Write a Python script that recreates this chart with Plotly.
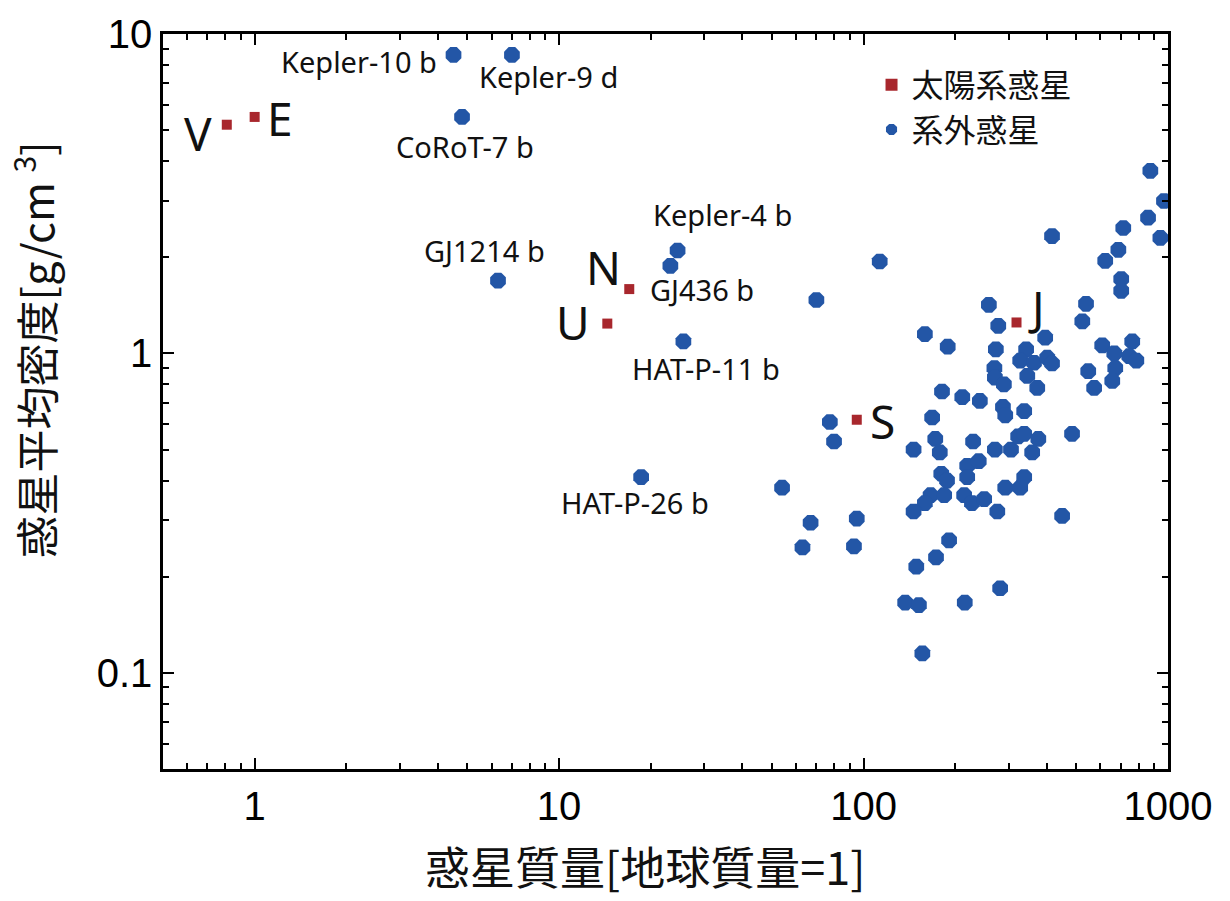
import math
import plotly.graph_objects as go

# Solar-system planets (mass in Earth masses, mean density g/cm^3)
solar_names = ["V", "E", "U", "N", "S", "J"]
solar_mass = [0.81, 1.0, 14.4, 17.0, 95, 318]
solar_density = [5.2, 5.5, 1.24, 1.59, 0.62, 1.25]

# Solar-system letter label positions (data units)
solar_label_x = [0.651, 1.21, 11.1, 14.0, 115, 369]
solar_label_y = [4.90, 5.46, 1.25, 1.87, 0.616, 1.40]

# Exoplanets
exo_mass = [
    4.5, 7.0, 4.8, 6.3, 24.5, 23.2, 25.6, 18.6, 70, 113,
    77.5, 80, 54, 67, 63, 95, 93,
    875, 970, 860, 713, 944, 416, 687, 622, 702, 702,
    258, 538, 523, 277, 159, 189, 395, 272, 342, 608,
    763, 666, 327, 363, 401, 416, 746, 787, 269, 345,
    547, 671, 270, 289, 372, 572, 656, 181, 211, 241,
    287, 292, 337, 168, 146, 172, 178, 229, 270, 305,
    322, 337, 375, 358, 484, 219, 239, 219, 180, 188,
    166, 159, 184, 146, 214, 227, 249, 275, 292, 327,
    337, 449, 191, 173, 149, 281, 137, 152, 215, 156,
]
exo_density = [
    8.6, 8.6, 5.5, 1.69, 2.10, 1.88, 1.09, 0.41, 1.47, 1.94,
    0.61, 0.53, 0.38, 0.295, 0.247, 0.304, 0.249,
    3.73, 3.00, 2.66, 2.47, 2.30, 2.33, 2.11, 1.95, 1.71, 1.57,
    1.42, 1.43, 1.26, 1.22, 1.15, 1.05, 1.12, 1.03, 1.03, 1.06,
    1.09, 1.00, 0.95, 0.935, 0.97, 0.93, 0.98, 0.95, 0.90, 0.85,
    0.88, 0.90, 0.84, 0.80, 0.78, 0.78, 0.82, 0.76, 0.73, 0.71,
    0.68, 0.64, 0.66, 0.63, 0.50, 0.54, 0.49, 0.53, 0.50, 0.50,
    0.55, 0.56, 0.54, 0.49, 0.56, 0.445, 0.46, 0.41, 0.42, 0.40,
    0.36, 0.34, 0.36, 0.32, 0.36, 0.34, 0.35, 0.32, 0.38, 0.38,
    0.41, 0.31, 0.26, 0.23, 0.215, 0.184, 0.166, 0.163, 0.166, 0.115,
]

# Named exoplanet labels (text, x, y in data units)
exo_label_text = ["Kepler-10 b", "Kepler-9 d", "CoRoT-7 b", "GJ1214 b",
                  "Kepler-4 b", "GJ436 b", "HAT-P-11 b", "HAT-P-26 b"]
exo_label_x = [2.20, 9.22, 4.92, 5.68, 34.5, 29.4, 30.3, 17.7]
exo_label_y = [8.23, 7.34, 4.43, 2.10, 2.72, 1.58, 0.896, 0.341]

x_tickvals = [1, 10, 100, 1000]
x_ticktext = ["1", "10", "100", "1000"]
y_tickvals = [0.1, 1, 10]
y_ticktext = ["0.1", "1", "10"]

BLUE = "#2356a6"
RED = "#a8272d"
CJK = "Noto Sans CJK JP"

fig = go.Figure()
fig.add_trace(go.Scatter(
    x=solar_mass, y=solar_density, mode="markers", name="太陽系惑星",
    marker=dict(symbol="square", size=10, color=RED),
))
fig.add_trace(go.Scatter(
    x=exo_mass, y=exo_density, mode="markers", name="系外惑星",
    marker=dict(symbol="octagon", size=17, color=BLUE),
))

# annotations on log axes are positioned in log10 units
for t, x, y in zip(exo_label_text, exo_label_x, exo_label_y):
    fig.add_annotation(x=math.log10(x), y=math.log10(y), xref="x", yref="y",
                       text=t, showarrow=False,
                       xanchor="center", yanchor="middle",
                       font=dict(family="Noto Sans", size=29, color="#111"))
for t, x, y in zip(solar_names, solar_label_x, solar_label_y):
    fig.add_annotation(x=math.log10(x), y=math.log10(y), xref="x", yref="y",
                       text=t, showarrow=False,
                       xanchor="center", yanchor="middle",
                       font=dict(family="Noto Sans", size=46, color="#111"))

# axis titles as annotations (placed like the reference)
fig.add_annotation(x=-0.129, y=0.57, xref="paper", yref="paper",
                   text="惑星平均密度[g/cm <sup>3</sup>]", showarrow=False,
                   textangle=-90, xanchor="center", yanchor="middle",
                   font=dict(family=CJK, size=43, color="#111"))
fig.add_annotation(x=0.4796, y=-0.131, xref="paper", yref="paper",
                   text="惑星質量[地球質量=1]", showarrow=False,
                   xanchor="center", yanchor="middle",
                   font=dict(family=CJK, size=45, color="#111"))

axis_common = dict(
    type="log", showline=True, linecolor="black", linewidth=2.5,
    mirror="allticks", ticks="inside", ticklen=11, tickwidth=2,
    tickcolor="black", showgrid=False, zeroline=False,
    tickfont=dict(family="Liberation Sans", size=40, color="black"),
    minor=dict(ticks="inside", ticklen=6, tickwidth=1.5, tickcolor="black",
               dtick="D1", showgrid=False),
)

fig.update_xaxes(**axis_common, range=[-0.30103, 3], tickmode="array",
                 tickvals=x_tickvals, ticktext=x_ticktext)
fig.update_yaxes(**axis_common, range=[-1.30103, 1], tickmode="array",
                 tickvals=y_tickvals, ticktext=y_ticktext)

fig.update_layout(
    width=1230, height=901,
    margin=dict(l=163, r=62, t=34, b=132, autoexpand=False),
    paper_bgcolor="white", plot_bgcolor="white",
    showlegend=True,
    legend=dict(x=0.705, y=0.968, xanchor="left", yanchor="top",
                bgcolor="rgba(0,0,0,0)", borderwidth=0,
                font=dict(family=CJK, size=32, color="#111"),
                itemsizing="constant", tracegroupgap=0),
)

fig.write_html("out.html")
